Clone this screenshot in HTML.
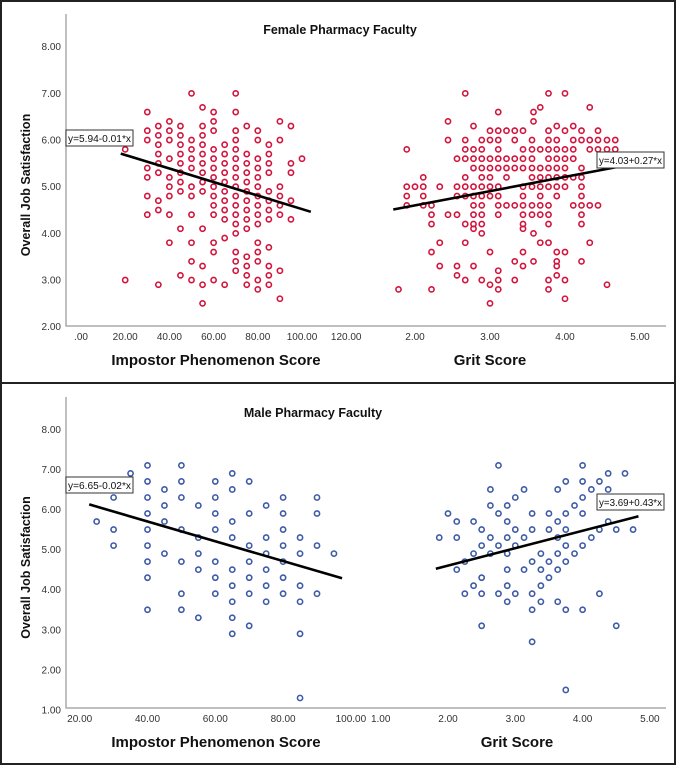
<!DOCTYPE html>
<html><head><meta charset="utf-8"><style>
html,body{margin:0;padding:0;background:#fff;}
svg{display:block;font-family:"Liberation Sans",Arial,sans-serif;}
</style></head><body>
<svg id="chart" width="676" height="765" viewBox="0 0 676 765">
<rect x="1" y="1" width="674" height="763" fill="#fff" stroke="#222" stroke-width="2"/>
<line x1="0" y1="383" x2="676" y2="383" stroke="#222" stroke-width="2"/>
</svg>
<script>
// ---- Female data ----
const femaleIP = [
[20,[5.8,3.0]],[30,[6.6,6.2,6.0,5.4,5.2,4.8,4.4]],[35,[6.3,6.1,5.9,5.7,5.5,5.3,4.7,4.5,2.9]],
[40,[6.4,6.2,6.0,5.6,5.2,5.0,4.8,4.4,3.8]],[45,[6.3,6.1,5.9,5.7,5.5,5.3,5.1,4.9,4.1,3.1]],
[50,[7.0,6.0,5.8,5.6,5.4,5.0,4.8,4.4,3.8,3.4,3.0]],[55,[6.7,6.3,6.1,5.9,5.7,5.5,5.3,5.1,4.9,4.1,3.3,2.9,2.5]],
[60,[6.6,6.4,6.2,5.8,5.6,5.4,5.2,5.0,4.8,4.6,4.4,3.8,3.6,3.0]],[65,[5.9,5.7,5.5,5.3,5.1,4.9,4.7,4.5,4.3,3.9,2.9]],
[70,[7.0,6.6,6.2,6.0,5.8,5.6,5.4,5.2,5.0,4.8,4.6,4.4,4.2,4.0,3.6,3.4,3.2]],
[75,[6.3,5.7,5.5,5.3,5.1,4.9,4.7,4.5,4.3,4.1,3.5,3.3,3.1,2.9]],
[80,[6.2,6.0,5.6,5.4,5.2,5.0,4.8,4.6,4.4,4.2,3.8,3.6,3.4,3.0,2.8]],
[85,[5.9,5.7,5.5,5.3,4.9,4.7,4.5,4.3,3.7,3.3,3.1,2.9]],[90,[6.4,6.0,5.0,4.8,4.6,4.4,3.2,2.6]],
[95,[6.3,5.5,5.3,4.7,4.3]],[100,[5.6]]
];
const femaleGrit = [
[7.0,[2.67,3.78,4.0]],[6.7,[3.67,4.33]],[6.6,[3.11,3.58]],[6.4,[2.44,3.58]],[6.3,[2.78,3.89,4.11]],
[6.2,[3.0,3.11,3.22,3.33,3.44,3.78,4.0,4.22,4.44]],
[6.0,[2.44,2.67,2.89,3.0,3.11,3.33,3.56,3.78,3.89,4.11,4.22,4.33,4.44,4.56,4.67]],
[5.8,[1.89,2.67,2.78,2.89,3.11,3.44,3.56,3.67,3.78,3.89,4.0,4.11,4.33,4.44,4.56,4.67]],
[5.6,[2.56,2.67,2.78,2.89,3.0,3.11,3.22,3.33,3.44,3.56,3.78,3.89,4.0,4.11]],
[5.4,[2.78,2.89,3.0,3.11,3.22,3.33,3.44,3.56,3.67,3.78,3.89,4.0,4.22]],
[5.2,[2.11,2.67,2.89,3.0,3.22,3.56,3.67,3.78,3.89,4.0,4.11,4.22]],
[5.0,[1.89,2.0,2.11,2.33,2.56,2.67,2.78,2.89,3.0,3.11,3.44,3.56,3.67,3.78,3.89,4.0,4.22]],
[4.8,[1.89,2.11,2.56,2.67,2.78,2.89,3.0,3.11,3.44,3.67,3.89,4.22]],
[4.6,[1.89,2.11,2.22,2.78,2.89,3.11,3.22,3.33,3.44,3.56,3.67,3.78,4.11,4.22,4.33,4.44]],
[4.4,[2.22,2.44,2.56,2.78,2.89,3.11,3.44,3.56,3.67,3.78,4.22]],
[4.2,[2.22,2.67,2.78,2.89,3.44,3.78,4.22]],[4.1,[2.78,3.44]],[4.0,[2.89,3.58]],
[3.8,[2.33,2.67,3.67,3.78,4.33]],[3.6,[2.22,3.0,3.44,3.89,4.0]],[3.4,[3.33,3.58,3.89,4.22]],
[3.3,[2.33,2.56,2.78,3.44,3.89]],[3.2,[3.11]],[3.1,[2.56,3.89]],[3.0,[2.67,2.89,3.11,3.33,3.78,4.0]],
[2.9,[3.0,4.56]],[2.8,[1.78,2.22,3.11,3.78]],[2.6,[4.0]],[2.5,[3.0]]
];
// ---- Male data ----
const maleIP = [
[25,[5.7]],[30,[6.3,5.5,5.1]],[35,[6.9]],[40,[7.1,6.7,6.3,5.9,5.5,5.1,4.7,4.3,3.5]],[45,[6.5,6.1,5.7,4.9]],
[50,[7.1,6.7,6.3,5.5,4.7,3.9,3.5]],[55,[6.1,5.3,4.9,4.5,3.3]],[60,[6.7,6.3,5.9,5.5,4.7,4.3,3.9]],
[65,[6.9,6.5,5.7,5.3,4.5,4.1,3.7,3.3,2.9]],[70,[6.7,5.9,5.1,4.7,4.3,3.9,3.1]],[75,[6.1,5.3,4.9,4.5,4.1,3.7]],
[80,[6.3,5.9,5.5,5.1,4.7,4.3,3.9]],[85,[5.3,4.9,4.1,3.7,2.9,1.3]],[90,[6.3,5.9,5.1,3.9]],[95,[4.9]]
];
const maleGrit = [
[7.1,[2.75,4.0]],[6.9,[4.38,4.63]],[6.7,[3.75,4.0,4.25]],[6.5,[2.63,3.13,3.63,4.13,4.38]],[6.3,[3.0,4.0]],
[6.1,[2.63,2.88,3.88]],[5.9,[2.0,2.75,3.25,3.5,3.75,4.0]],[5.7,[2.13,2.38,2.88,3.63,4.38]],
[5.5,[2.5,3.0,3.25,3.5,3.75,4.25,4.5,4.75]],[5.3,[1.87,2.13,2.63,2.88,3.13,3.63,4.13]],
[5.1,[2.5,2.75,3.0,3.75,4.0]],[4.9,[2.38,2.63,2.88,3.38,3.63,3.88]],[4.7,[2.25,3.25,3.5,3.75]],
[4.5,[2.13,2.88,3.13,3.38,3.63]],[4.3,[2.5,3.5]],[4.1,[2.38,2.88,3.38]],[3.9,[2.25,2.5,2.75,3.0,3.25,4.25]],
[3.7,[2.88,3.38,3.63]],[3.5,[3.25,3.75,4.0]],[3.1,[2.5,4.5]],[2.7,[3.25]],[1.5,[3.75]]
];
// regression [intercept, slope, xStart, xEnd]
const femaleIPFit = [5.97, -0.0145, 18, 104];
const femaleGritFit = [3.99, 0.305, 1.71, 4.73];
const maleIPFit = [6.69, -0.0247, 22.8, 97.4];
const maleGritFit = [3.73, 0.435, 1.82, 4.83];
const fitLabels = ["y=5.94-0.01*x","y=4.03+0.27*x","y=6.65-0.02*x","y=3.69+0.43*x"];
const femaleYTicks = ["2.00","3.00","4.00","5.00","6.00","7.00","8.00"];
const maleYTicks = ["1.00","2.00","3.00","4.00","5.00","6.00","7.00","8.00"];
const femaleIPTicks = [".00","20.00","40.00","60.00","80.00","100.00","120.00"];
const femaleGritTicks = ["2.00","3.00","4.00","5.00"];
const maleIPTicks = ["20.00","40.00","60.00","80.00","100.00"];
const maleGritTicks = ["1.00","2.00","3.00","4.00","5.00"];

const svg = document.getElementById('chart');
const NS = 'http://www.w3.org/2000/svg';
function mk(tag, attrs, parent){const e=document.createElementNS(NS,tag);for(const k in attrs)e.setAttribute(k,attrs[k]);(parent||svg).appendChild(e);return e;}
function txt(s, attrs, parent){const e=mk('text',attrs,parent);e.textContent=s;return e;}

function panel(cfg){
  const g=mk('g',{});
  
  
  const Y=v=>cfg.yTop+(cfg.yMax-v)*cfg.yPx;
  const XL=v=>cfg.lx0+(v-cfg.lv0)*cfg.lPx;
  const XR=v=>cfg.rx0+(v-cfg.rv0)*cfg.rPx;
  const ax=mk('path',{d:`M66 ${cfg.axTop} V${cfg.axBot} H666`,fill:'none',stroke:'#aaa','stroke-width':1.5},g);
  
  
  cfg.yTicks.forEach(t=>{const e=txt(t,{x:61,y:Y(parseFloat(t))+3.5,'text-anchor':'end','font-size':10,fill:'#333'},g);
    
    });
  cfg.lTicks.forEach(t=>{const e=txt(t,{x:XL(parseFloat(t)),y:cfg.axBot+14,'text-anchor':'middle','font-size':10,fill:'#333'},g);
    
    });
  cfg.rTicks.forEach(t=>{const e=txt(t,{x:XR(parseFloat(t)),y:cfg.axBot+14,'text-anchor':'middle','font-size':10,fill:'#333'},g);
    
    });
  let e=txt(cfg.title,{x:cfg.titleX,y:cfg.titleY,'text-anchor':'middle','font-size':12.5,'font-weight':'bold',fill:'#111'},g);
  
  
  e=txt('Overall Job Satisfaction',{transform:`translate(30 ${(cfg.axTop+cfg.axBot)/2+15}) rotate(-90)`,'text-anchor':'middle','font-size':12.5,'font-weight':'bold',fill:'#111'},g);
  
  
  e=txt('Impostor Phenomenon Score',{x:216,y:cfg.axBot+39,'text-anchor':'middle','font-size':15,'font-weight':'bold',fill:'#111'},g);
  
  
  e=txt('Grit Score',{x:cfg.gritTitleX,y:cfg.axBot+39,'text-anchor':'middle','font-size':15,'font-weight':'bold',fill:'#111'},g);
  
  
  cfg.ipData.forEach(([x,ys])=>ys.forEach(y=>{const c=mk('circle',{cx:XL(x),cy:Y(y),r:2.6,fill:'none',stroke:cfg.color,'stroke-width':1.6},g);
    
    }));
  cfg.gritData.forEach(([y,xs])=>xs.forEach(x=>{const c=mk('circle',{cx:XR(x),cy:Y(y),r:2.6,fill:'none',stroke:cfg.color,'stroke-width':1.6},g);
    
    }));
  [[cfg.ipFit,XL,'fit-line-impostor'],[cfg.gritFit,XR,'fit-line-grit']].forEach(([f,X,n])=>{
    const l=mk('line',{x1:X(f[2]),y1:Y(f[0]+f[1]*f[2]),x2:X(f[3]),y2:Y(f[0]+f[1]*f[3]),stroke:'#000','stroke-width':2.6},g);
    
    });
  cfg.labels.forEach(([s,x,y])=>{
    const r=mk('rect',{x:x,y:y,width:67,height:16,fill:'#fff',stroke:'#333','stroke-width':1},g);
    
    
    const t=txt(s,{x:x+33.5,y:y+12,'text-anchor':'middle','font-size':10,fill:'#111',textLength:63,lengthAdjust:'spacingAndGlyphs'},g);
    
    });
}
panel({name:'female-panel',color:'#d2143c',yTop:46.7,yMax:8,yPx:46.67,axTop:14,axBot:326,
  lx0:81,lv0:0,lPx:2.21,rx0:415,rv0:2,rPx:75,
  yTicks:femaleYTicks,lTicks:femaleIPTicks,rTicks:femaleGritTicks,
  title:'Female Pharmacy Faculty',titleX:340,titleY:34,gritTitleX:490,
  ipData:femaleIP,gritData:femaleGrit,ipFit:femaleIPFit,gritFit:femaleGritFit,
  labels:[[fitLabels[0],66,130],[fitLabels[1],597,152]]});
panel({name:'male-panel',color:'#3d5ba6',yTop:429.3,yMax:8,yPx:40.1,axTop:397,axBot:708,
  lx0:79.7,lv0:20,lPx:3.39,rx0:448,rv0:2,rPx:67.3,
  yTicks:maleYTicks,lTicks:maleIPTicks,rTicks:maleGritTicks,
  title:'Male Pharmacy Faculty',titleX:313,titleY:417,gritTitleX:517,
  ipData:maleIP,gritData:maleGrit,ipFit:maleIPFit,gritFit:maleGritFit,
  labels:[[fitLabels[2],66,477],[fitLabels[3],597,494]]});
</script>
</body></html>
